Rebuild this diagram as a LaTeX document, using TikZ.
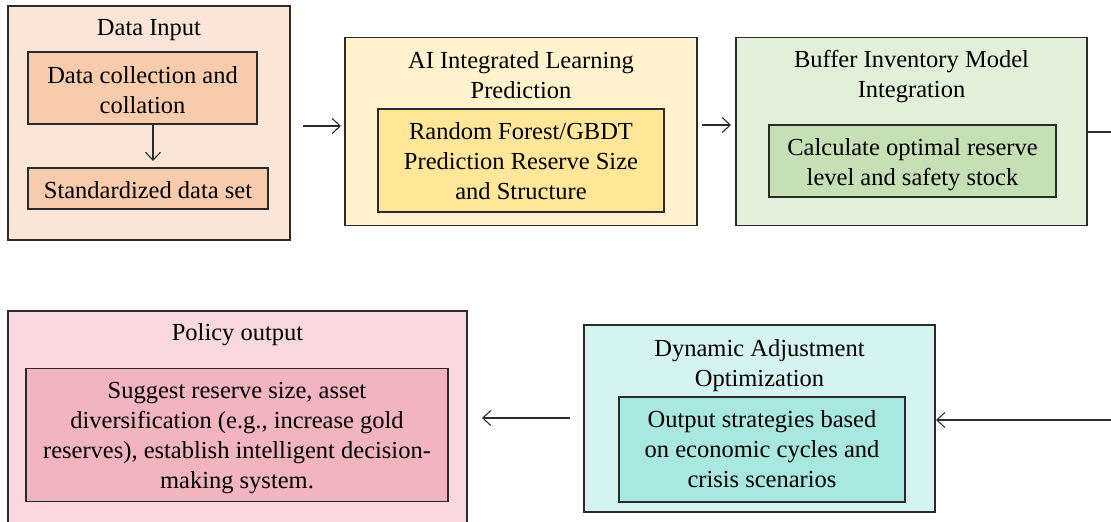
\documentclass[tikz,border=0pt]{standalone}
\usepackage{fontspec}
\setmainfont{Liberation Serif}
\usetikzlibrary{arrows.meta}
\definecolor{dinO}{HTML}{FBE5D6}
\definecolor{dinI}{HTML}{F8CBAD}
\definecolor{aiO}{HTML}{FFF2CC}
\definecolor{aiI}{HTML}{FFE699}
\definecolor{bfO}{HTML}{E2F0D9}
\definecolor{bfI}{HTML}{C5E0B4}
\definecolor{poO}{HTML}{F9D9DF}
\definecolor{poI}{HTML}{F2B4BE}
\definecolor{dyO}{HTML}{D5F3F1}
\definecolor{dyI}{HTML}{A9E7E1}
\definecolor{edge}{HTML}{2B2B2B}
\tikzset{
  box/.style={draw=edge, line width=1.3pt, inner sep=0pt, outer sep=0pt},
  txt/.style={align=center, font=\fontsize{24.5}{30}\selectfont, inner sep=0pt, text=black},
  conn/.style={draw=edge, line width=1.1pt},
  arr/.style={conn, -{Straight Barb[length=8pt,width=15pt]}},
}
\begin{document}
\begin{tikzpicture}[x=1pt,y=-1pt]
\useasboundingbox (0,0) rectangle (1111,522);
\clip (0,0) rectangle (1111,522);
% Data Input
\node[box, fill=dinO, minimum width=282pt, minimum height=234pt] (din) at (149,123) {};
\node[txt] (dint) at (149,30) {Data Input};
\node[box, fill=dinI, minimum width=229pt, minimum height=72pt] (din1) at (142.5,88) {};
\node[txt] (din1t) at (142.5,90) {Data collection and\\collation};
\node[box, fill=dinI, minimum width=240pt, minimum height=41pt] (din2) at (148,188.5) {};
\node[txt] (din2t) at (148,190.5) {Standardized data set};
% AI
\node[box, fill=aiO, minimum width=352pt, minimum height=188pt] (ai) at (521,131.5) {};
\node[txt] (ait) at (521,75.5) {AI Integrated Learning\\Prediction};
\node[box, fill=aiI, minimum width=286pt, minimum height=103pt] (ai1) at (521,160.5) {};
\node[txt] (ai1t) at (521,161.5) {Random Forest/GBDT\\Prediction Reserve Size\\and Structure};
% Buffer
\node[box, fill=bfO, minimum width=351pt, minimum height=188pt] (bf) at (911.5,131.5) {};
\node[txt] (bft) at (911.5,76.5) {Buffer Inventory Model\\Integration};
\node[box, fill=bfI, minimum width=287pt, minimum height=72pt] (bf1) at (912.5,161) {};
\node[txt] (bf1t) at (912.5,164.5) {Calculate optimal reserve\\level and safety stock};
% Policy
\node[box, fill=poO, minimum width=459pt, minimum height=230pt] (po) at (237.5,426) {};
\node[txt] (pot) at (237.5,335) {Policy output};
\node[box, fill=poI, minimum width=422pt, minimum height=133pt] (po1) at (237,435) {};
\node[txt] (po1t) at (237,438) {Suggest reserve size, asset\\diversification (e.g., increase gold\\reserves), establish intelligent decision-\\making system.};
% Dynamic
\node[box, fill=dyO, minimum width=351pt, minimum height=187pt] (dy) at (759.5,418.5) {};
\node[txt] (dyt) at (759.5,365.5) {Dynamic Adjustment\\Optimization};
\node[box, fill=dyI, minimum width=286pt, minimum height=105pt] (dy1) at (762,449.5) {};
\node[txt] (dy1t) at (762,449) {Output strategies based\\on economic cycles and\\crisis scenarios};
% connectors
\coordinate (r1) at (1111,132);
\coordinate (r2) at (1111,420);
\coordinate (ya) at (0,126);
\coordinate (yb) at (0,125);
\coordinate (yc) at (0,418);
\draw[arr] ([xshift=10.5pt]din1.south) -- ([xshift=5pt]din2.north) [shorten >=7pt];
\draw[arr, shorten <=13pt, shorten >=4pt] (din.east |- ya) -- (ai.west |- ya);
\draw[arr, shorten <=5pt, shorten >=5pt] (ai.east |- yb) -- (bf.west |- yb);
\draw[conn] (bf.east |- r1) -- (r1);
\draw[arr, shorten >=1pt] (r2) -- (dy.east |- r2);
\draw[arr, shorten <=14pt, shorten >=15pt] (dy.west |- yc) -- (po.east |- yc);
\end{tikzpicture}
\end{document}
